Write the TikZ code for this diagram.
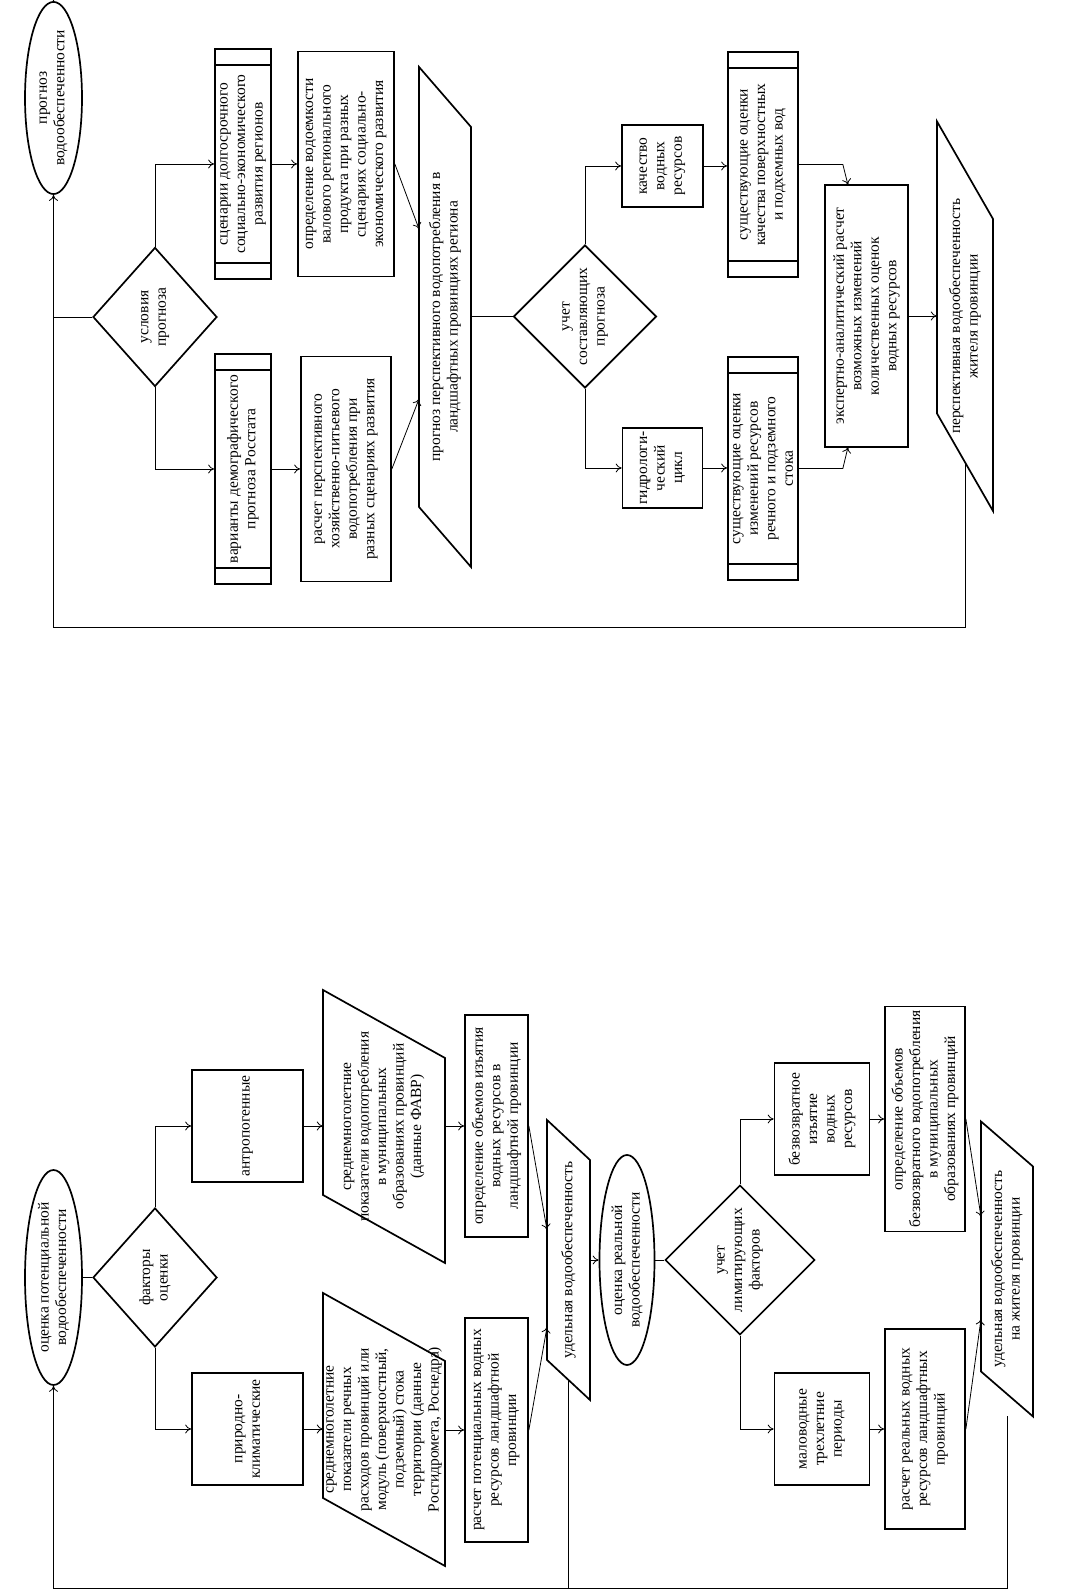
\documentclass[tikz,border=0pt]{standalone}
\usepackage{fontspec}
\setmainfont{Liberation Serif}
\usetikzlibrary{shapes.geometric,arrows.meta}
\newcommand{\mypara}[5]{%
 \draw[line width=1.7pt,line join=miter] ({#1-#3/2+#5/2},{#2+#4/2}) -- ({#1+#3/2+#5/2},{#2+#4/2}) -- ({#1+#3/2-#5/2},{#2-#4/2}) -- ({#1-#3/2-#5/2},{#2-#4/2}) -- cycle;}
\newcommand{\mybars}[4]{%
 \draw[line width=1.7pt] ({#1-#3/2+16},{#2+#4/2}) -- ({#1-#3/2+16},{#2-#4/2}) ({#1+#3/2-16},{#2+#4/2}) -- ({#1+#3/2-16},{#2-#4/2});}
\begin{document}
\begin{tikzpicture}[x=1pt,y=1pt,
  base/.style={font=\fontsize{15.5}{17.5}\selectfont, align=center, inner sep=0pt},
  box/.style={base, draw, line width=1.7pt, rectangle},
  ell/.style={base, draw, line width=1.7pt, ellipse},
  dia/.style={base, draw, line width=1.7pt, diamond},
  ptext/.style={base},
  lin/.style={line width=0.8pt},
  conn/.style={line width=0.8pt, -{To[length=6pt,width=9pt]}},
]
\useasboundingbox (0,0) rectangle (1080,1589);
\fill[white] (0,0) rectangle (1080,1589);
\begin{scope}[rotate=90, transform shape]
% ---------- potential ----------
\node[ell, minimum width=215pt, minimum height=57pt] (E1) at (311.5,-53.5) {оценка потенциальной\\водообеспеченности};
\node[dia, minimum width=139pt, minimum height=124pt] (D1) at (311.5,-155) {факторы\\оценки};
\node[box, minimum width=112pt, minimum height=111pt] (PK) at (160,-247.5) {природно-\\климатические};
\node[box, minimum width=112pt, minimum height=111pt] (AN) at (463,-247.5) {антропогенные};
\mypara{159.5}{-384}{205}{122}{68}
\node[ptext, minimum height=122pt] (PP1) at (159.5,-384) {среднемноголетние\\показатели речных\\расходов провинций или\\модуль (поверхностный,\\подземный) стока\\территории (данные\\Росгидромета, Роснедра)};
\mypara{462.5}{-384}{205}{122}{68}
\node[ptext, minimum height=122pt] (PP2) at (462.5,-384) {среднемноголетние\\показатели водопотребления\\в муниципальных\\образованиях провинций\\(данные ФАВР)};
\node[box, minimum width=224pt, minimum height=63pt] (R1) at (159,-496.5) {расчет потенциальных водных\\ресурсов ландшафтной\\провинции};
\node[box, minimum width=222pt, minimum height=63pt] (R2) at (463,-496.5) {определение объемов изъятия\\водных ресурсов в\\ландшафтной провинции};
\mypara{329}{-568.5}{240}{43}{40}
\node[ptext, minimum height=43pt] (U1) at (329,-568.5) {удельная водообеспеченность};
\coordinate (U1a) at (262,-547);
\coordinate (U1b) at (359,-547);
\coordinate (U1l) at (209,-568.5);
\coordinate (U1fb) at (1,-568.5);
\draw[lin] (E1.south) -- (D1.north);
\draw[conn] (D1.west) -| (PK.north);
\draw[conn] (D1.east) -| (AN.north);
\draw[conn] (PK.south) -- (PK.south |- PP1.north);
\draw[conn] (AN.south) -- (AN.south |- PP2.north);
\draw[conn] (R1.north |- PP1.south) -- (R1.north);
\draw[conn] (R2.north |- PP2.south) -- (R2.north);
\draw[conn] (R1.south) -- (U1a);
\draw[conn] (R2.south) -- (U1b);
\draw[lin] (U1l) -- (U1fb);
% ---------- real ----------
\node[ell, minimum width=210pt, minimum height=55pt] (E2) at (329,-627) {оценка реальной\\водообеспеченности};
\node[dia, minimum width=139pt, minimum height=120pt] (D4) at (329,-740) {учет\\лимитирующих\\факторов};
\node[box, minimum width=112pt, minimum height=95pt] (MT) at (160,-822) {маловодные\\трехлетние\\периоды};
\node[box, minimum width=112pt, minimum height=95pt] (BI) at (470,-822) {безвозвратное\\изъятие\\водных\\ресурсов};
\node[box, minimum width=200pt, minimum height=80pt] (RR) at (160,-925) {расчет реальных водных\\ресурсов ландшафтных\\провинций};
\node[box, minimum width=225pt, minimum height=80pt] (OB) at (470,-925) {определение объемов\\безвозвратного водопотребления\\в муниципальных\\образованиях провинций};
\mypara{320}{-1007}{250}{52}{45}
\node[ptext, minimum height=52pt] (U2) at (320,-1007) {удельная водообеспеченность\\на жителя провинции};
\coordinate (U2a) at (270,-981);
\coordinate (U2b) at (372,-981);
\coordinate (U2fb) at (172.5,-1007);
\coordinate (fbE1) at (1,-53.5);
\draw[conn] (E2.north |- U1.south) -- (E2.north);
\draw[lin] (E2.south) -- (D4.north);
\draw[conn] (D4.west) -| (MT.north);
\draw[conn] (D4.east) -| (BI.north);
\draw[conn] (MT.south) -- (MT.south |- RR.north);
\draw[conn] (BI.south) -- (BI.south |- OB.north);
\draw[conn] (RR.south) -- (U2a);
\draw[conn] (OB.south) -- (U2b);
\draw[conn] (U2fb) -| (fbE1) -- (E1.west);
% ---------- forecast ----------
\node[ell, minimum width=160pt, minimum height=57pt] (EF) at (1491,-53.5) {прогноз\\водообеспеченности};
\node[dia, minimum width=139pt, minimum height=124pt] (D2) at (1272,-155) {условия\\прогноза};
\node[box, minimum width=230pt, minimum height=56pt] (VD) at (1120,-243) {варианты демографического\\прогноза Росстата};
\mybars{1120}{-243}{230}{56}
\node[box, minimum width=230pt, minimum height=56pt] (SC) at (1425,-243) {сценарии долгосрочного\\социально-экономического\\развития регионов};
\mybars{1425}{-243}{230}{56}
\node[box, minimum width=225pt, minimum height=90pt] (RP) at (1120,-346) {расчет перспективного\\хозяйственно-питьевого\\водопотребления при\\разных сценариях развития};
\node[box, minimum width=225pt, minimum height=96pt] (OV) at (1425,-346) {определение водоемкости\\валового регионального\\продукта при разных\\сценариях социально-\\экономического развития};
\mypara{1272}{-445}{440}{52}{60}
\node[ptext, minimum height=52pt] (PV) at (1272,-445) {прогноз перспективного водопотребления в\\ландшафтных провинциях региона};
\coordinate (PVa) at (1190,-419);
\coordinate (PVb) at (1360,-419);
\node[dia, minimum width=127pt, minimum height=114pt] (D3) at (1272.5,-585) {учет\\составляющих\\прогноза};
\node[box, minimum width=82pt, minimum height=81pt] (Q) at (1423,-662.5) {качество\\водных\\ресурсов};
\node[box, minimum width=80pt, minimum height=80pt] (H) at (1121,-662.5) {гидрологи-\\ческий\\цикл};
\node[box, minimum width=225pt, minimum height=70pt] (SQ) at (1424.5,-763) {существующие оценки\\качества поверхностных\\и подхемных вод};
\mybars{1424.5}{-763}{225}{70}
\node[box, minimum width=223pt, minimum height=70pt] (SH) at (1120.5,-763) {существующие оценки\\изменений ресурсов\\речного и подземного\\стока};
\mybars{1120.5}{-763}{223}{70}
\node[box, minimum width=262pt, minimum height=83pt] (EA) at (1273,-866.5) {экспертно-аналитический расчет\\возможных изменений\\количественных оценок\\водных ресурсов};
\mypara{1272.75}{-965}{292}{56}{97.5}
\node[ptext, minimum height=56pt] (PF) at (1272.75,-965) {перспективная водообеспеченность\\жителя провинции};
\coordinate (EAa) at (1142,-848);
\coordinate (EAb) at (1404,-848);
\coordinate (PFl) at (1126.5,-965);
\coordinate (fbEF) at (962,-53.5);
\coordinate (EFj) at (1272,-53.5);
\coordinate (inF) at (1589,-53.5);
\draw[conn] (inF) -- (EF.east);
\draw[lin] (EFj) -- (D2.north);
\draw[conn] (D2.west) -| (VD.north);
\draw[conn] (D2.east) -| (SC.north);
\draw[conn] (VD.south) -- (VD.south |- RP.north);
\draw[conn] (SC.south) -- (SC.south |- OV.north);
\draw[conn] (RP.south) -- (PVa);
\draw[conn] (OV.south) -- (PVb);
\draw[lin] (D3.north |- PV.south) -- (D3.north);
\draw[conn] (D3.west) -| (H.north);
\draw[conn] (D3.east) -| (Q.north);
\draw[conn] (H.south) -- (H.south |- SH.north);
\draw[conn] (Q.south) -- (Q.south |- SQ.north);
\draw[conn] (SH.south) -- ++(0,-44) -- (EAa);
\draw[conn] (SQ.south) -- ++(0,-44) -- (EAb);
\draw[conn] (EA.south) -- (EA.south |- PF.north);
\draw[conn] (PFl) -| (fbEF) -- (EF.west);
\end{scope}
\end{tikzpicture}
\end{document}
